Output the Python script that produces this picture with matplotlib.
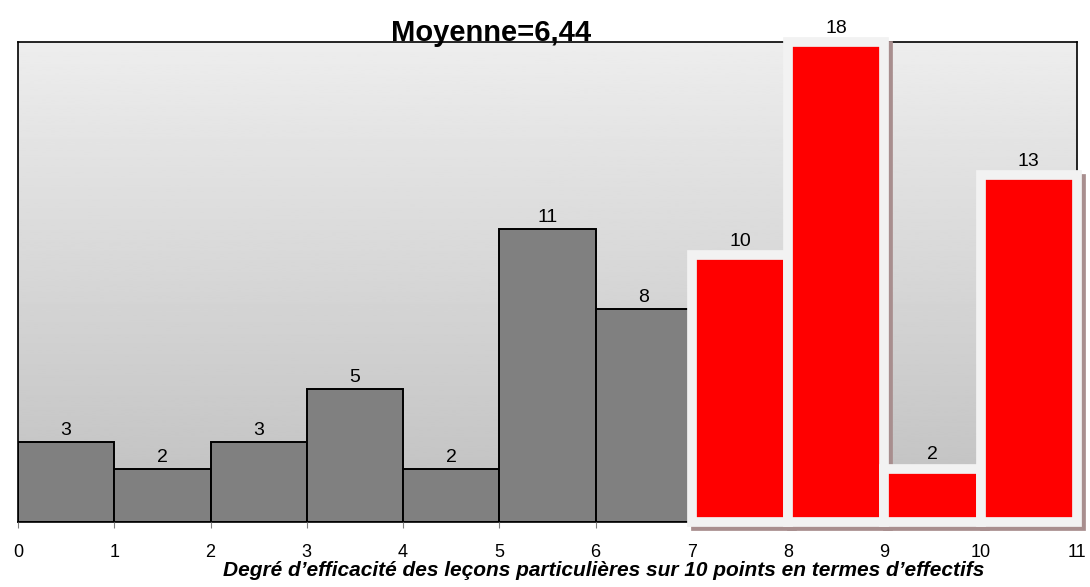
import numpy as np
import matplotlib
matplotlib.use('Agg')
import matplotlib.pyplot as plt
import matplotlib.transforms as mtransforms

plt.rcParams['font.family'] = ['Liberation Sans', 'DejaVu Sans']

bins = [0, 1, 2, 3, 4, 5, 6, 7, 8, 9, 10, 11]
counts = [3, 2, 3, 5, 2, 11, 8, 10, 18, 2, 13]
red_from = 7  # bars from this score on are highlighted
title = 'Moyenne=6,44'
xlabel = 'Degré d’efficacité des leçons particulières sur 10 points en termes d’effectifs'

fig = plt.figure(figsize=(10.9, 5.87), dpi=100)
ax = fig.add_axes([0.0165, 0.1107, 0.9715, 0.8177])

# gradient background
grad = np.linspace(0.93, 0.75, 256).reshape(-1, 1)
ax.imshow(grad, cmap='gray', vmin=0, vmax=1, aspect='auto',
          extent=[0, 11, 0, 18], zorder=0)

# shifted copy of the data transform for the drop shadow
shadow_tr = mtransforms.offset_copy(ax.transData, fig=fig, x=4, y=-4, units='dots')

lefts = np.array(bins[:-1])
for x, c in zip(lefts, counts):
    if x < red_from:
        ax.bar(x, c, width=1, align='edge', color='#808080',
               edgecolor='black', linewidth=1.4, zorder=2)
        ax.text(x + 0.5, c + 0.1, str(c), ha='center', va='bottom',
                fontsize=14, zorder=5)
    else:
        sh = ax.bar(x, c, width=1, align='edge', color='#a88e8e',
                    edgecolor='#a88e8e', linewidth=7, zorder=2.5, clip_on=False)
        sh[0].set_transform(shadow_tr)
        ax.bar(x, c, width=1, align='edge', color='#ff0000',
               edgecolor='#f2f2f2', linewidth=7, zorder=3, clip_on=False)
        ax.text(x + 0.5, c + 0.2, str(c), ha='center', va='bottom',
                fontsize=14, zorder=5)

ax.set_xlim(0, 11)
ax.set_ylim(0, 18)
ax.set_xticks(bins)
ax.set_xticklabels([str(b) for b in bins], fontsize=13)
ax.set_yticks([])
ax.tick_params(axis='x', length=4, color='#808080', pad=12)
for s in ax.spines.values():
    s.set_linewidth(1.2)
    s.set_zorder(1)

fig.text(491 / 1090, 0.93, title, ha='center', va='baseline',
         fontsize=21, fontweight='bold')
fig.text(604 / 1090, 0.0187, xlabel, ha='center', va='baseline',
         fontsize=15, fontweight='bold', style='italic')

plt.savefig('out.png', dpi=100)
